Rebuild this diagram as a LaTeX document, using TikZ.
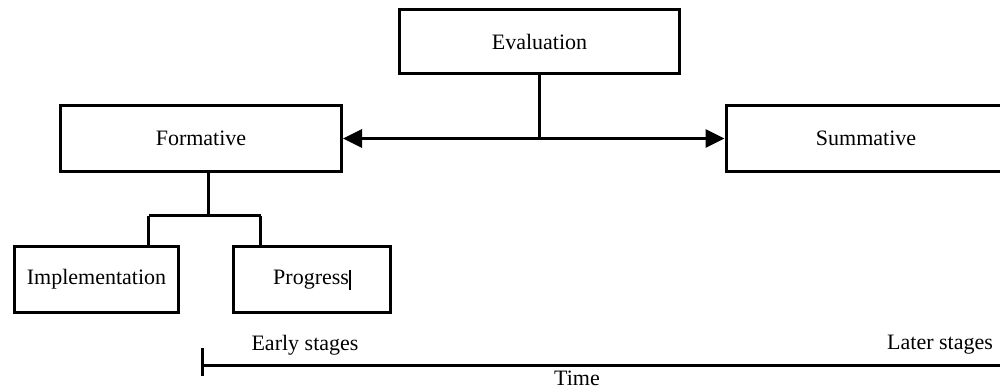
\documentclass[tikz,border=0pt]{standalone}
\usepackage{fontspec}
\setmainfont{Liberation Serif}
\usetikzlibrary{arrows.meta}
\begin{document}
\begin{tikzpicture}[x=1pt,y=-1pt,
  box/.style={draw, line width=3pt, rectangle, inner sep=0pt,
              font=\fontsize{22}{26}\selectfont},
  conn/.style={line width=3pt},
  tip/.style={-{Triangle[length=19pt,width=18pt]}},
  lbl/.style={inner sep=0pt, font=\fontsize{22}{26}\selectfont}]
\useasboundingbox (0,0) rectangle (1000,389);
\clip (0,0) rectangle (1000,389);

% evaluation hierarchy
\node[box, minimum width=280pt, minimum height=64pt] (eval) at (539.5,41.5) {Evaluation};
\node[box, minimum width=281pt, minimum height=66pt] (form) at (201,138.5) {Formative};
\node[box, minimum width=280pt, minimum height=66pt] (summ) at (866,138.5) {Summative};

\draw[conn, tip] (eval.south) |- (form.east);
\draw[conn, tip] (eval.south) |- (summ.west);

% formative sub-types
\node[box, minimum width=164pt, minimum height=66pt] (impl) at (96.5,279.5) {Implementation};
\node[box, minimum width=157pt, minimum height=66pt] (prog) at (312,279.5)
  {Progress\kern0.5pt\rule[-5pt]{1.3pt}{20pt}};

\coordinate (fork) at (208.5,215.5);
\coordinate (legL) at (148.5,215.5);
\coordinate (legR) at (260.5,215.5);
\draw[conn] (fork |- form.south) -- (fork);
\draw[conn] (legL) -- (legR);
\draw[conn] (legL) -- (legL |- impl.north);
\draw[conn] (legR) -- (legR |- prog.north);

% time axis
\coordinate (tstart) at (202.5,365.5);
\coordinate (tend) at (1010,365.5);
\coordinate (tickTop) at (202.5,348);
\coordinate (tickBot) at (202.5,376);
\draw[conn] (tickTop) -- (tickBot);
\draw[conn] (tstart) -- (tend);
\node[lbl] (early) at (305,345) {Early stages};
\node[lbl, anchor=west] (later) at (887,345) {Later stages};
\node[lbl] (time) at (577,378) {Time};
\end{tikzpicture}
\end{document}
